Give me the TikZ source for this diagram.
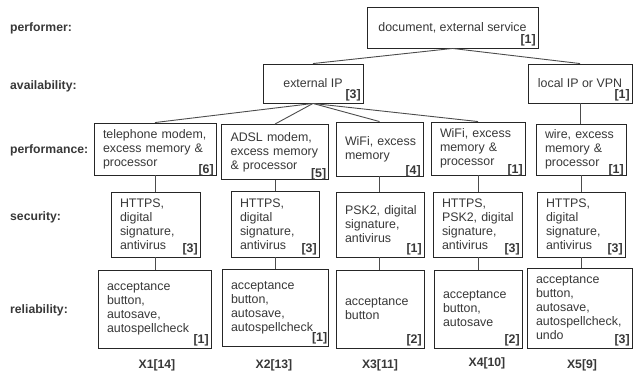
\documentclass[tikz,border=0pt]{standalone}
\usepackage{fontspec}
\setmainfont{Liberation Sans}
\usepackage{xcolor}
\usepackage{tikz}
\definecolor{inkText}{rgb}{0.22,0.22,0.22}
\definecolor{inkBox}{rgb}{0.15,0.15,0.15}
\definecolor{inkLine}{rgb}{0.3,0.3,0.3}
\hyphenpenalty=10000
\exhyphenpenalty=10000

\tikzset{
    cell/.style={draw=inkBox, line width=0.9pt, fill=white, text=inkText, align=left,
        inner xsep=9pt, inner ysep=0pt, font=\fontsize{12.4}{14}\selectfont},
    midcell/.style={cell, align=center, inner xsep=0pt},
    tag/.style={anchor=south east, inner sep=2.5pt, text=inkText, font=\fontsize{12.4}{14}\selectfont\bfseries},
    rowname/.style={anchor=west, inner sep=0pt, text=inkText, font=\fontsize{12.2}{14}\selectfont\bfseries},
    total/.style={inner sep=0pt, text=inkText, font=\fontsize{12.2}{14}\selectfont\bfseries},
    link/.style={draw=inkLine, line width=0.9pt}
}

\begin{document}
\begin{tikzpicture}[x=1pt, y=-1pt]
    \useasboundingbox (0,0) rectangle (633,377);

    % row names
    \node[rowname] (nperformer) at (10,28) {performer:};
    \node[rowname] (navailability) at (10,86) {availability:};
    \node[rowname] (nperformance) at (10,150) {performance:};
    \node[rowname] (nsecurity) at (10,217) {security:};
    \node[rowname] (nreliability) at (10,310) {reliability:};

    % performer and availability
    \node[midcell, minimum width=171pt, minimum height=41pt] (doc) at (452.5,27.5) {document, external service};
    \node[midcell, minimum width=100pt, minimum height=39pt] (extip) at (313,83.5) {external IP};
    \node[midcell, minimum width=104pt, minimum height=39pt] (locip) at (580,83.5) {local IP or VPN};

    % performance
    \node[cell, text width=104pt, minimum height=52pt] (perf1) at (155,149) {telephone~modem,\\excess~memory~\&\\processor};
    \node[cell, text width=89pt, minimum height=55pt] (perf2) at (275,152) {ADSL~modem,\\excess~memory\\\&~processor};
    \node[cell, text width=69pt, minimum height=54pt] (perf3) at (379.5,149) {WiFi,~excess\\memory};
    \node[cell, text width=76pt, minimum height=53pt] (perf4) at (478,148.5) {WiFi,~excess\\memory~\&\\processor};
    \node[cell, text width=72pt, minimum height=51pt] (perf5) at (581,149.5) {wire,~excess\\memory~\&\\processor};

    % security
    \node[cell, text width=71pt, minimum height=65pt] (sec1) at (155.5,224.5) {HTTPS,\\digital\\signature,\\antivirus};
    \node[cell, text width=70pt, minimum height=66pt] (sec2) at (275,224) {HTTPS,\\digital\\signature,\\antivirus};
    \node[cell, text width=70pt, minimum height=65pt] (sec3) at (380,224.5) {PSK2,~digital\\signature,\\antivirus};
    \node[cell, text width=71pt, minimum height=65pt] (sec4) at (477.5,224.5) {HTTPS,\\PSK2,~digital\\signature,\\antivirus};
    \node[cell, text width=70pt, minimum height=65pt] (sec5) at (581,224.5) {HTTPS,\\digital\\signature,\\antivirus};

    % reliability
    \node[cell, text width=95pt, minimum height=78pt] (rel1) at (154.5,309) {acceptance\\button,\\autosave,\\autospellcheck};
    \node[cell, text width=88pt, minimum height=77pt] (rel2) at (275,307.5) {acceptance\\button,\\autosave,\\autospellcheck};
    \node[cell, text width=70pt, minimum height=78pt] (rel3) at (380,309) {acceptance\\button};
    \node[cell, text width=70pt, minimum height=78pt] (rel4) at (478,309) {acceptance\\button,\\autosave};
    \node[cell, text width=87pt, minimum height=80pt] (rel5) at (579.5,308) {acceptance\\button,\\autosave,\\autospellcheck,\\undo};

    % counts in the corners
    \node[tag] (tdoc) at (doc.south east) {[1]};
    \node[tag] (textip) at (extip.south east) {[3]};
    \node[tag] (tlocip) at (locip.south east) {[1]};
    \node[tag, yshift=-3pt] (tperf1) at (perf1.south east) {[6]};
    \node[tag, yshift=-3pt] (tperf2) at (perf2.south east) {[5]};
    \node[tag, yshift=-3pt] (tperf3) at (perf3.south east) {[4]};
    \node[tag, yshift=-3pt] (tperf4) at (perf4.south east) {[1]};
    \node[tag, yshift=-3pt] (tperf5) at (perf5.south east) {[1]};
    \node[tag] (tsec1) at (sec1.south east) {[3]};
    \node[tag] (tsec2) at (sec2.south east) {[3]};
    \node[tag] (tsec3) at (sec3.south east) {[1]};
    \node[tag] (tsec4) at (sec4.south east) {[3]};
    \node[tag] (tsec5) at (sec5.south east) {[3]};
    \node[tag] (trel1) at (rel1.south east) {[1]};
    \node[tag, inner xsep=1pt] (trel2) at (rel2.south east) {[1]};
    \node[tag] (trel3) at (rel3.south east) {[2]};
    \node[tag] (trel4) at (rel4.south east) {[2]};
    \node[tag] (trel5) at (rel5.south east) {[3]};

    % totals
    \node[total] (x1) at (157,365) {X1[14]};
    \node[total] (x2) at (274,365) {X2[13]};
    \node[total] (x3) at (380,365) {X3[11]};
    \node[total] (x4) at (487,363) {X4[10]};
    \node[total] (x5) at (582,365) {X5[9]};

    % tree links
    \draw[link] (doc.south) -- (extip.north);
    \draw[link] (doc.south) -- (locip.north);
    \draw[link] (extip.south) -- (perf1.north);
    \draw[link] (extip.south) -- (perf2.north);
    \draw[link] (extip.south) -- (perf3.north);
    \draw[link] (extip.south) -- (perf4.north);
    \draw[link] (locip.south) -- (locip.south |- perf5.north);
    \foreach \c in {1,2,3,4,5} {
        \draw[link] (perf\c.south) -- (perf\c.south |- sec\c.north);
        \draw[link] (perf\c.south |- sec\c.south) -- (perf\c.south |- rel\c.north);
    }
\end{tikzpicture}
\end{document}
